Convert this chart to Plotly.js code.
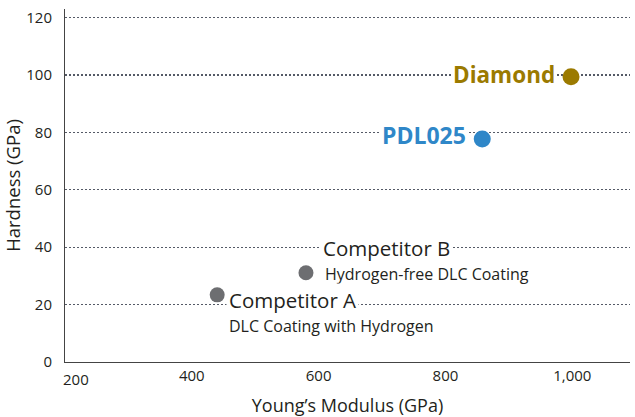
<!DOCTYPE html>
<html><head><meta charset="utf-8">
<script src="https://cdn.plot.ly/plotly-3.0.1.min.js"></script>
<style>body{margin:0;background:#fff}#c{width:635px;height:417px}</style>
</head><body><div id="c"></div>
<script>
const names = ["Diamond", "PDL025", "Competitor B", "Competitor A"];
const subtitles = ["", "", "Hydrogen-free DLC Coating", "DLC Coating with Hydrogen"];
const modulus = [998, 858, 580, 440];
const hardness = [99.4, 77.7, 31.1, 23.4];
const colors = ["#9b7a00", "#2f87c8", "#6d6e71", "#6d6e71"];
const sizes = [17, 17, 15, 15];
const xTicks = [200, 400, 600, 800, 1000];
const xTickText = ["200", "400", "600", "800", "1,000"];
const yTicks = [0, 20, 40, 60, 80, 100, 120];

const FONT = "Open Sans, sans-serif";
const INK = "#231f20";
const trace = {
  x: modulus, y: hardness, mode: "markers", type: "scatter",
  marker: {size: sizes, color: colors, opacity: 1, line: {width: 0}}, hoverinfo: "skip", cliponaxis: false
};
const ann = [];
ann.push({x: modulus[0], y: hardness[0], text: "<b>" + names[0] + "</b>", showarrow: false,
  xanchor: "right", xshift: -14, yshift: 2, font: {family: FONT, size: 22.5, color: colors[0]}, bgcolor: "#fff"});
ann.push({x: modulus[1], y: hardness[1], text: "<b>" + names[1] + "</b>", showarrow: false,
  xanchor: "right", xshift: -14, yshift: 4, font: {family: FONT, size: 23, color: colors[1]}, bgcolor: "#fff"});
ann.push({x: modulus[2], y: hardness[2], text: names[2], showarrow: false,
  xanchor: "left", xshift: 14, yshift: 24.5, font: {family: FONT, size: 20.5, color: INK}, bgcolor: "#fff", borderpad: 2});
ann.push({x: modulus[2], y: hardness[2], text: subtitles[2], showarrow: false,
  xanchor: "left", xshift: 17, yshift: -1, font: {family: FONT, size: 16, color: INK}});
ann.push({x: modulus[3], y: hardness[3], text: names[3], showarrow: false,
  xanchor: "left", xshift: 9, yshift: -5, font: {family: FONT, size: 20.5, color: INK}, bgcolor: "#fff", borderpad: 2});
ann.push({x: modulus[3], y: hardness[3], text: subtitles[3], showarrow: false,
  xanchor: "left", xshift: 10, yshift: -31, font: {family: FONT, size: 16, color: INK}});
// first x tick label sits slightly right of the axis corner
ann.push({x: xTicks[0], y: 0, xref: "x", yref: "paper", text: xTickText[0], showarrow: false,
  xanchor: "center", yanchor: "top", xshift: 11, yshift: -5, font: {family: FONT, size: 15, color: INK}});

const layout = {
  width: 635, height: 417,
  margin: {l: 65, r: 5, t: 9, b: 55},
  paper_bgcolor: "#fff", plot_bgcolor: "#fff",
  showlegend: false,
  font: {family: FONT, color: INK, size: 15},
  xaxis: {
    range: [200, 1091], tickvals: xTicks, ticktext: ["", ...xTickText.slice(1)], showgrid: false, zeroline: false,
    showline: true, linecolor: "#444", linewidth: 1, ticks: "",
    tickfont: {family: FONT, size: 15, color: INK},
    title: {text: "Young’s Modulus (GPa)", font: {family: FONT, size: 18, color: INK}, standoff: 16}
  },
  yaxis: {
    range: [0, 123], tickvals: yTicks, showgrid: true, gridcolor: "#555a66", gridwidth: 1.2,
    griddash: "1.5px,2.5px", zeroline: false,
    showline: true, linecolor: "#444", linewidth: 1, ticks: "", ticklabelstandoff: 9,
    tickfont: {family: FONT, size: 15, color: INK},
    title: {text: "Hardness (GPa)", font: {family: FONT, size: 18.5, color: INK}, standoff: 12}
  },
  annotations: ann
};
Plotly.newPlot("c", [trace], layout, {staticPlot: true});
</script></body></html>
